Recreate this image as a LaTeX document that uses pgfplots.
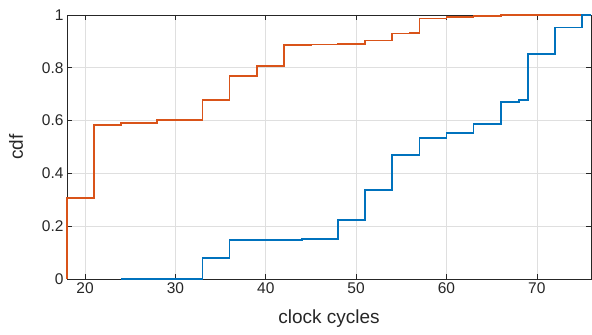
\documentclass[border=0pt]{standalone}
\usepackage{fontspec}
\setmainfont{Liberation Sans}
\usepackage{pgfplots}
\pgfplotsset{compat=1.18}
\definecolor{mblue}{RGB}{0,114,189}
\definecolor{morange}{RGB}{217,83,25}
\definecolor{axgray}{RGB}{38,38,38}
\begin{document}
\begin{tikzpicture}
\begin{axis}[
  scale only axis,
  width=524pt, height=264pt,
  xmin=18, xmax=76, ymin=0, ymax=1,
  clip=false,
  xtick={20,30,40,50,60,70},
  ytick={0,0.2,0.4,0.6,0.8,1},
  yticklabels={0,0.2,0.4,0.6,0.8,1},
  grid=major,
  major grid style={gray!25, line width=0.6pt},
  tick align=inside,
  tick style={axgray, line width=0.6pt},
  major tick length=5pt,
  axis line style={axgray, line width=0.7pt},
  tick label style={font=\fontsize{15.5}{18}\selectfont, text=axgray},
  label style={font=\fontsize{19}{22}\selectfont, text=axgray},
  /pgf/number format/assume math mode=true,
  xlabel={clock cycles},
  ylabel={cdf},
  xlabel style={yshift=-9pt},
  ylabel style={yshift=12pt},
]
\addplot[const plot, morange, line width=1.7pt] coordinates {
(18,0)(18,0.306)(21,0.584)(24,0.592)(28,0.603)(33,0.678)(36,0.769)(39,0.808)(42,0.886)(45,0.888)(48,0.89)(51,0.903)(54,0.93)(56,0.932)(57,0.987)(60,0.992)(63,0.997)(66,0.999)(69,1)(76,1)
};
\addplot[const plot, mblue, line width=1.7pt] coordinates {
(24,0)(33,0.079)(36,0.149)(44,0.151)(48,0.224)(51,0.337)(54,0.470)(57,0.533)(60,0.552)(63,0.586)(66,0.671)(68,0.678)(69,0.852)(72,0.953)(75,1)(76,1)
};
\end{axis}
\path[use as bounding box] (current axis.south west) ++(-67pt,-55pt) rectangle ([xshift=1pt,yshift=15pt]current axis.north east);
\end{tikzpicture}
\end{document}
